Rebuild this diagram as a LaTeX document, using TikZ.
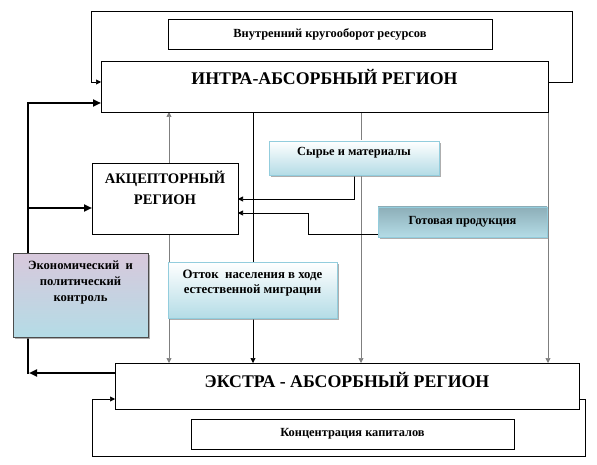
\documentclass[tikz,border=0pt]{standalone}
\usepackage{fontspec}
\setmainfont{Liberation Serif}
\usetikzlibrary{arrows.meta,shadows,backgrounds}
\definecolor{lblue}{HTML}{B4DCE6}
\definecolor{bblue}{HTML}{93CDDD}
\definecolor{lav}{HTML}{D8C8DC}
\definecolor{teal}{HTML}{8DAEB8}
\definecolor{lgray}{HTML}{7F7F7F}
\begin{document}
\begin{tikzpicture}[x=1pt,y=-1pt,
  box/.style={draw=black, line width=0.6pt, fill=white, inner sep=0pt, outer sep=0pt, anchor=north west},
  gbox/.style={draw=bblue, line width=0.8pt, inner sep=0pt, outer sep=0pt, anchor=north west,
    drop shadow={shadow xshift=2pt, shadow yshift=-2pt, fill=black!45, opacity=0.7}},
  big/.style={font=\bfseries\fontsize{17.8}{20}\selectfont},
  mid/.style={font=\bfseries\fontsize{14.6}{21}\selectfont, align=center},
  sml/.style={font=\bfseries\fontsize{12.4}{12}\selectfont, align=center},
  ott/.style={font=\bfseries\fontsize{12.8}{15}\selectfont, align=center},
  eco/.style={font=\bfseries\fontsize{12.6}{16}\selectfont, align=center},
  line/.style={line width=0.6pt, draw=black},
  gline/.style={line width=0.7pt, draw=lgray},
  tip/.style={-{Triangle[length=5pt,width=5pt]}},
  thickline/.style={line width=2.2pt, draw=black},
  bigtip/.style={-{Triangle[length=8pt,width=7pt]}}
]
\useasboundingbox (0,0) rectangle (597,465);

% boxes
\node[box, minimum width=324pt, minimum height=30pt, sml] (vn) at (168,19) {Внутренний кругооборот ресурсов};
\node[box, minimum width=447pt, minimum height=51pt,
  label={[big, yshift=9.5pt]center:ИНТРА-АБСОРБНЫЙ РЕГИОН}] (ia) at (101,61) {};
\node[box, minimum width=146pt, minimum height=71pt,
  label={[mid, yshift=11pt]center:АКЦЕПТОРНЫЙ\\РЕГИОН}] (akc) at (92,163) {};
\node[gbox, top color=white, bottom color=lblue, minimum width=170pt, minimum height=34pt,
  label={[sml, yshift=5pt]center:Сырье и материалы}] (syr) at (269,141) {};
\node[gbox, top color=teal, bottom color=lblue, minimum width=169pt, minimum height=30pt, sml] (got) at (378,207) {Готовая продукция};
\node[gbox, draw=black!70, top color=lav, bottom color=lblue, minimum width=135pt, minimum height=84pt,
  label={[eco, yshift=12.5pt]center:Экономический\ \ и\\политический\\контроль}] (eco) at (13,253) {};
\node[gbox, top color=white, bottom color=lblue, minimum width=169pt, minimum height=56pt,
  label={[ott, yshift=6.5pt]center:Отток\ \ населения в ходе\\естественной миграции}] (ott) at (168,262) {};
\node[box, minimum width=464pt, minimum height=46pt,
  label={[big, yshift=6pt]center:ЭКСТРА - АБСОРБНЫЙ РЕГИОН}] (ex) at (115,363) {};
\node[box, minimum width=323pt, minimum height=30pt, sml] (kc) at (191,419) {Концентрация капиталов};

\coordinate (tl) at (91,11);
\coordinate (tr) at (572,11);
\coordinate (bl) at (92,456);
\coordinate (br) at (585,456);
\coordinate (tk) at (28,373);

\begin{scope}[on background layer]
  % top loop
  \draw[line,tip] (ia.east |- 0,82) -| (tr) -- (tl) |- (ia.west |- 0,82);
  % bottom loop
  \draw[line,tip] (ex.east |- 0,399) -| (br) -- (bl) |- (ex.west |- 0,399);
  % vertical connectors
  \draw[gline,{Triangle[length=5pt,width=5pt]}-{Triangle[length=5pt,width=5pt]}] (ia.south -| 169,0) -- (ex.north -| 169,0);
  \draw[line,tip] (ia.south -| 253,0) -- (ex.north -| 253,0);
  \draw[gline,tip] (ia.south -| 361,0) -- (ex.north -| 361,0);
  \draw[gline,tip] (ia.south -| 548,0) -- (ex.north -| 548,0);
  % into akceptor
  \draw[line,tip] (syr.south) |- (akc.east |- 0,199);
  \draw[line,tip] (got.west |- 0,234) -| (308,213) -- (akc.east |- 0,213);
  % thick control lines
  \draw[thickline,bigtip] (ex.west |- tk) -- ([xshift=1pt]tk);
  \draw[thickline,bigtip] ([yshift=-1pt]tk) -- (28,103) -- (ia.west |- 0,103);
  \draw[thickline,bigtip] (28,208) -- (akc.west |- 0,208);
\end{scope}
\end{tikzpicture}
\end{document}
